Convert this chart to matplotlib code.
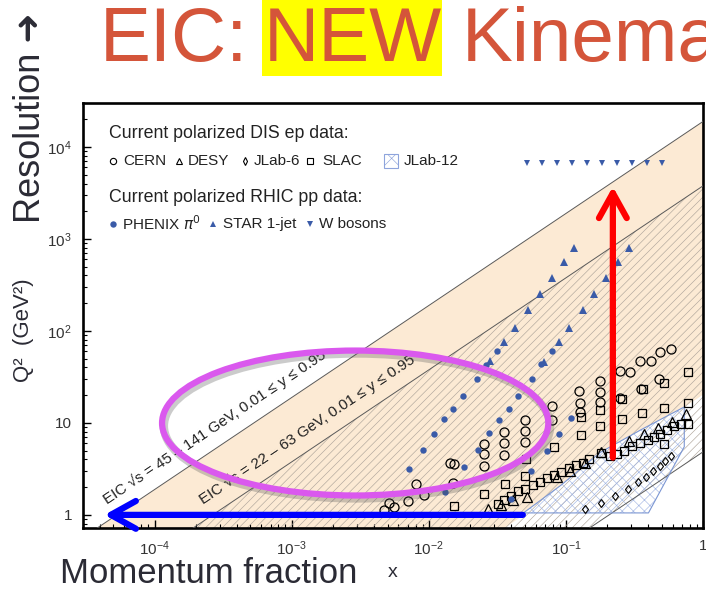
import math

import numpy as np
import matplotlib

matplotlib.use("Agg")
import matplotlib.pyplot as plt
from matplotlib.patches import Ellipse, Polygon, Rectangle

plt.rcParams["font.family"] = ["Liberation Sans", "DejaVu Sans"]
plt.rcParams["hatch.linewidth"] = 0.45

# EIC kinematic bands: Q^2 = y * s * x
sqrt_s_wide = (45.0, 141.0)
sqrt_s_low = (22.0, 63.0)
y_range = (0.01, 0.95)

# current polarized DIS ep data
cern_x = [0.0047, 0.0051, 0.0056, 0.0071, 0.0080, 0.0092, 0.0142, 0.0152, 0.0150,
          0.0252, 0.0252, 0.0252, 0.0352, 0.0352, 0.0352, 0.0502, 0.0502, 0.0502,
          0.0791, 0.0791, 0.125, 0.127, 0.127, 0.177, 0.177, 0.177, 0.248, 0.293,
          0.248, 0.347, 0.417, 0.485, 0.583, 0.475, 0.353]
cern_q2 = [1.13, 1.35, 1.22, 1.42, 2.17, 1.65, 3.67, 3.59, 2.23,
           5.91, 4.60, 3.41, 7.98, 6.06, 4.49, 10.8, 8.19, 6.21,
           15.3, 10.8, 22.3, 16.5, 13.2, 28.6, 21.7, 16.9, 36.7, 35.8,
           18.7, 47.2, 47.2, 59.1, 63.7, 30.1, 23.4]

desy_x = [0.0270, 0.0336, 0.0410, 0.0519, 0.0859, 0.107, 0.138, 0.179, 0.288,
          0.371, 0.470, 0.594, 0.751]
desy_q2 = [1.16, 1.28, 1.46, 1.57, 2.59, 3.01, 3.67, 4.84, 6.37, 7.6, 8.82, 10.3, 12.5]

jlab6_x = [0.138, 0.179, 0.228, 0.284, 0.336, 0.384, 0.431, 0.485, 0.528, 0.583]
jlab6_q2 = [1.16, 1.35, 1.61, 1.92, 2.28, 2.59, 3.01, 3.41, 3.86, 4.38]

slac_x = [0.0319, 0.0352, 0.0397, 0.0447, 0.0502, 0.0574, 0.0646, 0.0727, 0.0817,
          0.0920, 0.105, 0.118, 0.133, 0.147, 0.179, 0.209, 0.235, 0.266, 0.303,
          0.347, 0.397, 0.438, 0.485, 0.546, 0.614, 0.690, 0.778, 0.519,
          0.778, 0.778, 0.519, 0.519, 0.365, 0.359, 0.256, 0.256, 0.177, 0.177,
          0.129, 0.129, 0.0817, 0.0510, 0.0502, 0.0357, 0.0252, 0.0152]
slac_q2 = [1.32, 1.46, 1.61, 1.82, 1.92, 2.12, 2.28, 2.52, 2.72,
           2.93, 3.24, 3.49, 3.67, 4.06, 4.72, 4.38, 4.60, 4.96, 5.62,
           6.06, 6.54, 7.05, 7.6, 8.39, 9.28, 9.75, 9.75, 5.91,
           35.8, 16.5, 27.2, 14.6, 23.4, 12.8, 18.2, 11.0, 13.8, 9.28,
           11.6, 7.41, 5.48, 4.06, 2.65, 2.17, 1.69, 1.25]

jlab12_x = [0.049, 0.40, 0.73, 0.73, 0.352, 0.179, 0.092]
jlab12_q2 = [1.05, 1.05, 5.5, 14.9, 8.4, 4.8, 2.1]

# current polarized RHIC pp data
phenix_x = [0.00714, 0.00903, 0.0109, 0.0129, 0.0150, 0.0177, 0.0224, 0.0261, 0.0313,
            0.0131, 0.0180, 0.0228, 0.0274, 0.0324, 0.0384, 0.0447, 0.0565, 0.0658,
            0.0791, 0.0397, 0.0556, 0.0726, 0.0889, 0.109]
phenix_q2 = [3.16, 5.09, 7.6, 11.0, 14.2, 19.7, 30.1, 42.7, 60.6,
             1.78, 3.32, 5.09, 7.79, 10.8, 14.2, 19.7, 30.1, 43.8,
             60.6, 1.49, 3.01, 4.96, 7.6, 11.3]

star_x = [0.0279, 0.0352, 0.0425, 0.0528, 0.0646, 0.0791, 0.0966, 0.114,
          0.069, 0.0889, 0.105, 0.133, 0.160, 0.196, 0.240, 0.288]
star_q2 = [47.2, 75.9, 108, 169, 253, 377, 562, 798,
           46, 75.9, 108, 169, 253, 377, 562, 798]

wboson_x = [0.0519, 0.0668, 0.0860, 0.111, 0.143, 0.183, 0.236, 0.304, 0.391, 0.503]
wboson_q2 = [6700] * 10

# arrows drawn on top of the plot
red_arrow_x = 0.22
red_arrow_q2 = (4.2, 3700)
blue_arrow_x = (0.0485, 4.3e-5)
blue_arrow_q2 = 1.0

x_ticks = [1e-4, 1e-3, 1e-2, 1e-1, 1]
x_tick_labels = ["$\\mathregular{10^{-4}}$", "$\\mathregular{10^{-3}}$",
                 "$\\mathregular{10^{-2}}$", "$\\mathregular{10^{-1}}$", "1"]
y_ticks = [1, 10, 1e2, 1e3, 1e4]
y_tick_labels = ["1", "10", "$\\mathregular{10^{2}}$", "$\\mathregular{10^{3}}$",
                 "$\\mathregular{10^{4}}$"]

W, H = 706, 592
beige = "#FCEAD4"
dark = "#2b2b35"
pblue = "#3A5BA8"

fig = plt.figure(figsize=(W / 100, H / 100), dpi=100)
ax = fig.add_axes([83 / W, 1 - 528 / H, 620 / W, 425 / H])
ax.set_xscale("log")
ax.set_yscale("log")
ax.set_xlim(3.0e-5, 1.0)
ax.set_ylim(0.72, 3.0e4)

xs = np.array([1e-6, 10.0])
top_wide = y_range[1] * sqrt_s_wide[1] ** 2
bot_wide = y_range[0] * sqrt_s_wide[0] ** 2
top_low = y_range[1] * sqrt_s_low[1] ** 2
bot_low = y_range[0] * sqrt_s_low[0] ** 2

ax.fill_between(xs, bot_wide * xs, top_wide * xs, color=beige, lw=0, zorder=1)
ax.fill(jlab12_x, jlab12_q2, facecolor="white", edgecolor="none", zorder=1.5)
ax.fill_between(xs, bot_low * xs, top_low * xs, facecolor="none",
                edgecolor="#b0a69c", hatch="////", lw=0, zorder=2)
ax.fill(jlab12_x, jlab12_q2, facecolor="none", edgecolor="#a5b8e4",
        hatch="xxx", lw=0, zorder=2.5)
ax.add_patch(Polygon(list(zip(jlab12_x, jlab12_q2)), closed=True, fill=False,
                     edgecolor="#7b96d3", lw=0.8, zorder=2.7))
for c in (top_wide, top_low, bot_low):
    ax.plot(xs, c * xs, color="#5a5a5a", lw=0.7, zorder=2.6)

ax.plot(cern_x, cern_q2, "o", mfc="none", mec="k", ms=6.5, mew=0.9, zorder=4)
ax.plot(desy_x, desy_q2, "^", mfc="none", mec="k", ms=6.5, mew=0.9, zorder=4)
ax.plot(slac_x, slac_q2, "s", mfc="none", mec="k", ms=6.3, mew=0.9, zorder=4)
ax.plot(jlab6_x, jlab6_q2, "d", mfc="none", mec="k", ms=4.5, mew=0.8, zorder=4)
ax.plot(phenix_x, phenix_q2, "o", color=pblue, ms=4.6, mew=0, zorder=4)
ax.plot(star_x, star_q2, "^", color=pblue, ms=5.2, mew=0, zorder=4)
ax.plot(wboson_x, wboson_q2, "v", color=pblue, ms=5.0, mew=0, zorder=4)

# band labels, rotated along the boundary lines
p1 = ax.transData.transform((1e-4, top_wide * 1e-4))
p2 = ax.transData.transform((1e-2, top_wide * 1e-2))
angle = math.degrees(math.atan2(p2[1] - p1[1], p2[0] - p1[0]))
ax.text(4.54e-5, 1.285, "EIC \u221as = 45 \u2013 141 GeV, 0.01 \u2264 y \u2264 0.95",
        rotation=angle, rotation_mode="anchor", ha="left", va="baseline",
        fontsize=11, color="#222222", zorder=3)
ax.text(2.28e-4, 1.285, "EIC \u221as = 22 \u2013 63 GeV, 0.01 \u2264 y \u2264 0.95",
        rotation=angle, rotation_mode="anchor", ha="left", va="baseline",
        fontsize=11, color="#222222", zorder=3)

# axes styling
ax.set_xticks(x_ticks)
ax.set_xticklabels(x_tick_labels)
ax.set_yticks(y_ticks)
ax.set_yticklabels(y_tick_labels)
ax.tick_params(which="both", direction="in", top=False, right=False,
               labelsize=11, labelcolor="#333333")
ax.tick_params(which="major", length=6, width=1.0, pad=8)
ax.tick_params(which="minor", length=3, width=0.8)
for sp in ax.spines.values():
    sp.set_linewidth(1.9)

# legend block written inside the axes
T = ax.transAxes
ax.text(0.042, 0.929, "Current polarized DIS ep data:", transform=T,
        fontsize=12.8, va="center", color="#222222", zorder=5)
ax.text(0.042, 0.7765, "Current polarized RHIC pp data:", transform=T,
        fontsize=12.8, va="center", color="#222222", zorder=5)
row2 = 0.8635
for mx, tx, mk, ms, lab in [(0.0484, 0.0645, "o", 4.5, "CERN"),
                            (0.1548, 0.1694, "^", 4.8, "DESY"),
                            (0.2613, 0.2758, "d", 3.8, "JLab-6"),
                            (0.3661, 0.3855, "s", 4.6, "SLAC")]:
    ax.plot([mx], [row2], mk, transform=T, mfc="none", mec="k", ms=ms,
            mew=0.8, zorder=5, clip_on=False)
    ax.text(tx, row2, lab, transform=T, fontsize=11, va="center",
            color="#222222", zorder=5)
ax.add_patch(Rectangle((0.4855, row2 - 0.016), 0.0226, 0.032, transform=T,
                       facecolor="white", edgecolor="#8ea4dc", hatch="xx",
                       lw=0.8, zorder=5))
ax.text(0.5177, row2, "JLab-12", transform=T, fontsize=11, va="center",
        color="#222222", zorder=5)
row4 = 0.7153
for mx, tx, mk, lab in [(0.0484, 0.0629, "o", "PHENIX $\\pi^0$"),
                        (0.2097, 0.2258, "^", "STAR 1-jet"),
                        (0.3661, 0.3806, "v", "W bosons")]:
    ax.plot([mx], [row4], mk, transform=T, color=pblue, ms=4.6, mew=0,
            zorder=5, clip_on=False)
    ax.text(tx, row4, lab, transform=T, fontsize=11, va="center",
            color="#222222", zorder=5)

# slide annotations: arrows and highlight ellipse
ax.annotate("", xy=(red_arrow_x, red_arrow_q2[1]), xytext=(red_arrow_x, red_arrow_q2[0]),
            arrowprops=dict(arrowstyle="->,head_length=1.8,head_width=1.0",
                            color="#FF0000", lw=4.5, mutation_scale=10,
                            shrinkA=0, shrinkB=0), zorder=6)
ax.annotate("", xy=(blue_arrow_x[1], blue_arrow_q2), xytext=(blue_arrow_x[0], blue_arrow_q2),
            arrowprops=dict(arrowstyle="->,head_length=1.8,head_width=1.0",
                            color="#0000FF", lw=4.5, mutation_scale=10,
                            shrinkA=0, shrinkB=0), zorder=6)
ax.add_patch(Ellipse((0.442, 0.240), 0.623, 0.341, transform=T, fill=False,
                     edgecolor="#555555", alpha=0.3, lw=6, zorder=6.9,
                     clip_on=False))
ax.add_patch(Ellipse((0.439, 0.247), 0.623, 0.341, transform=T, fill=False,
                     edgecolor="#DA58EE", lw=4.5, zorder=7, clip_on=False))

# outer labels
fig.text(24 / W, 1 - 330 / H, "Q\u00b2  (GeV\u00b2)", rotation=90, fontsize=16,
         ha="center", va="center", color=dark)
fig.text(31 / W, 1 - 118 / H, "Resolution \u279c", rotation=90, fontsize=26,
         ha="center", va="center", color=dark)
fig.text(60 / W, 1 - 583 / H, "Momentum fraction", fontsize=25, color=dark,
         va="baseline")
fig.text(388 / W, 1 - 577 / H, "x", fontsize=14, color=dark, va="baseline")

# title strip
title_col = "#D4553A"
fig.add_artist(Rectangle((262 / W, 1 - 76 / H), 180 / W, 76 / H,
                         transform=fig.transFigure, facecolor="#FFFF00",
                         edgecolor="none", zorder=0))
fig.text(100 / W, 1 - 61 / H, "EIC:", fontsize=55, color=title_col, va="baseline")
fig.text(264 / W, 1 - 61 / H, "NEW", fontsize=55, color=title_col, va="baseline")
fig.text(462 / W, 1 - 61 / H, "Kinematics", fontsize=55, color=title_col, va="baseline")

fig.savefig("out.png", dpi=100)
